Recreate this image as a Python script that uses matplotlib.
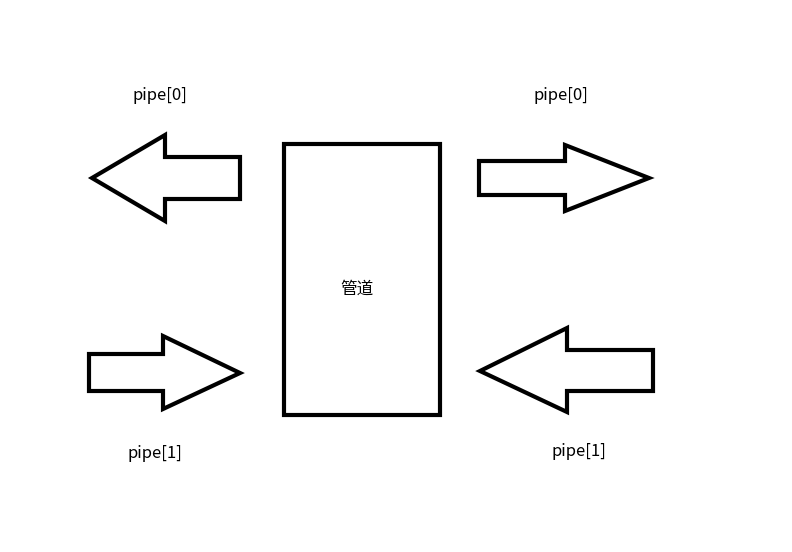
import matplotlib
matplotlib.use("Agg")
import matplotlib.pyplot as plt
from matplotlib.patches import Polygon, Rectangle

plt.rcParams['font.family'] = ['Noto Sans CJK SC', 'DejaVu Sans']

# Diagram shapes in pixel space (y grows downward)
arrow_top_left = [(240,157),(165,157),(165,135),(92,178),(165,221),(165,199),(240,199)]
arrow_top_right = [(479,161),(565,161),(565,145),(649,178),(565,211),(565,195),(479,195)]
arrow_bottom_left = [(89,354),(163,354),(163,336),(240,373),(163,409),(163,391),(89,391)]
arrow_bottom_right = [(653,350),(567,350),(567,328),(480,371),(567,412),(567,391),(653,391)]
pipe_box = (284, 144, 156, 271)  # x, y, w, h
labels = ["pipe[0]", "pipe[0]", "pipe[1]", "pipe[1]", "管道"]
label_pos = [(160,96), (561,96), (155,454), (579,452), (357,289)]

fig = plt.figure(figsize=(7.92, 5.52), dpi=100)
ax = fig.add_axes([0, 0, 1, 1])
ax.set_xlim(0, 792)
ax.set_ylim(552, 0)
ax.axis('off')

for pts in [arrow_top_left, arrow_top_right, arrow_bottom_left, arrow_bottom_right]:
    ax.add_patch(Polygon(pts, closed=True, facecolor='white', edgecolor='black',
                         linewidth=3, joinstyle='miter'))
x, y, w, h = pipe_box
ax.add_patch(Rectangle((x, y), w, h, facecolor='white', edgecolor='black', linewidth=3))

for t, (px, py) in zip(labels, label_pos):
    ax.text(px, py, t, ha='center', va='center', fontsize=12, color='black')

fig.savefig("out.png", dpi=100)
